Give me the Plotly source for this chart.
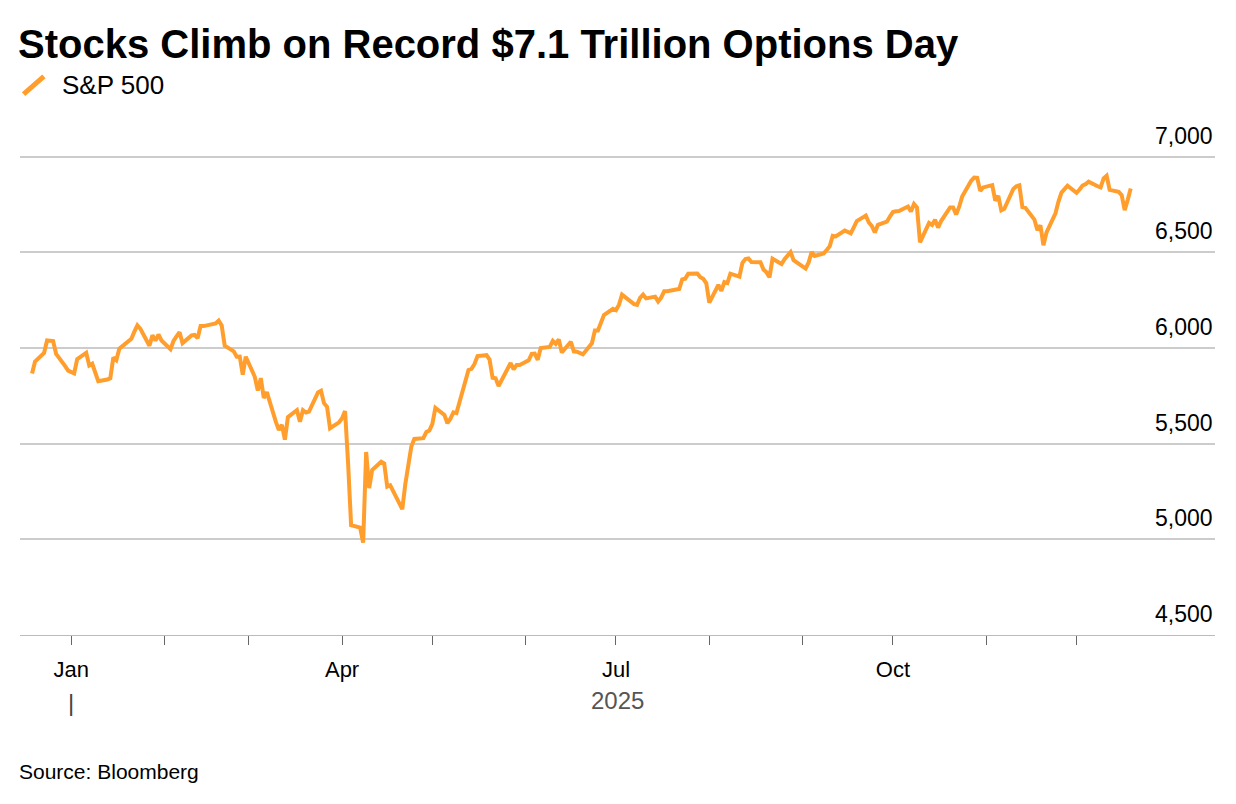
import plotly.graph_objects as go

dates = ["2024-12-19","2024-12-20","2024-12-23","2024-12-24","2024-12-26","2024-12-27","2024-12-30","2024-12-31",
"2025-01-02","2025-01-03","2025-01-06","2025-01-07","2025-01-08","2025-01-10","2025-01-13","2025-01-14","2025-01-15","2025-01-16","2025-01-17",
"2025-01-21","2025-01-22","2025-01-23","2025-01-24","2025-01-27","2025-01-28","2025-01-29","2025-01-30","2025-01-31",
"2025-02-03","2025-02-04","2025-02-05","2025-02-06","2025-02-07","2025-02-10","2025-02-11","2025-02-12","2025-02-13","2025-02-14",
"2025-02-18","2025-02-19","2025-02-20","2025-02-21","2025-02-24","2025-02-25","2025-02-26","2025-02-27","2025-02-28",
"2025-03-03","2025-03-04","2025-03-05","2025-03-06","2025-03-07","2025-03-10","2025-03-11","2025-03-12","2025-03-13","2025-03-14",
"2025-03-17","2025-03-18","2025-03-19","2025-03-20","2025-03-21","2025-03-24","2025-03-25","2025-03-26","2025-03-27","2025-03-28","2025-03-31",
"2025-04-01","2025-04-02","2025-04-03","2025-04-04","2025-04-07","2025-04-08","2025-04-09","2025-04-10","2025-04-11",
"2025-04-14","2025-04-15","2025-04-16","2025-04-17","2025-04-21","2025-04-22","2025-04-23","2025-04-24","2025-04-25",
"2025-04-28","2025-04-29","2025-04-30","2025-05-01","2025-05-02","2025-05-05","2025-05-06","2025-05-07","2025-05-08","2025-05-09",
"2025-05-12","2025-05-13","2025-05-14","2025-05-15","2025-05-16","2025-05-19","2025-05-20","2025-05-21","2025-05-22","2025-05-23",
"2025-05-27","2025-05-28","2025-05-29","2025-05-30","2025-06-02","2025-06-03","2025-06-04","2025-06-05","2025-06-06",
"2025-06-09","2025-06-10","2025-06-11","2025-06-12","2025-06-13","2025-06-16","2025-06-17","2025-06-18","2025-06-20",
"2025-06-23","2025-06-24","2025-06-25","2025-06-26","2025-06-27","2025-06-30","2025-07-01","2025-07-02","2025-07-03",
"2025-07-07","2025-07-08","2025-07-09","2025-07-10","2025-07-11","2025-07-14","2025-07-15","2025-07-16","2025-07-17","2025-07-18",
"2025-07-21","2025-07-22","2025-07-23","2025-07-24","2025-07-25","2025-07-28","2025-07-29","2025-07-30","2025-07-31","2025-08-01",
"2025-08-04","2025-08-05","2025-08-06","2025-08-07","2025-08-08","2025-08-11","2025-08-12","2025-08-13","2025-08-14","2025-08-15",
"2025-08-18","2025-08-19","2025-08-20","2025-08-21","2025-08-22","2025-08-25","2025-08-26","2025-08-27","2025-08-28","2025-08-29",
"2025-09-02","2025-09-03","2025-09-04","2025-09-05","2025-09-08","2025-09-09","2025-09-10","2025-09-11","2025-09-12",
"2025-09-15","2025-09-16","2025-09-17","2025-09-18","2025-09-19","2025-09-22","2025-09-23","2025-09-24","2025-09-25","2025-09-26",
"2025-09-29","2025-09-30","2025-10-01","2025-10-02","2025-10-03","2025-10-06","2025-10-07","2025-10-08","2025-10-09","2025-10-10",
"2025-10-13","2025-10-14","2025-10-15","2025-10-16","2025-10-17","2025-10-20","2025-10-21","2025-10-22","2025-10-23","2025-10-24",
"2025-10-27","2025-10-28","2025-10-29","2025-10-30","2025-10-31","2025-11-03","2025-11-04","2025-11-05","2025-11-06","2025-11-07",
"2025-11-10","2025-11-11","2025-11-12","2025-11-13","2025-11-14","2025-11-17","2025-11-18","2025-11-19","2025-11-20","2025-11-21",
"2025-11-24","2025-11-25","2025-11-26","2025-11-28","2025-12-01","2025-12-02","2025-12-03","2025-12-04","2025-12-05",
"2025-12-08","2025-12-09","2025-12-10","2025-12-11","2025-12-12","2025-12-15","2025-12-16","2025-12-17","2025-12-18","2025-12-19"]

spx = [5867,5930,5974,6040,6037,5970,5906,5882,
5868,5942,5975,5909,5918,5827,5836,5842,5950,5937,5997,
6049,6086,6119,6101,6012,6067,6039,6071,6040,
5994,6037,6061,6083,6026,6066,6069,6052,6115,6115,
6129,6144,6118,6013,5983,5955,5956,5861,5955,
5850,5778,5843,5739,5770,5614,5572,5599,5521,5639,
5675,5615,5675,5663,5668,5768,5777,5712,5693,5581,5612,
5633,5671,5397,5074,5062,4983,5457,5268,5363,
5406,5397,5276,5283,5158,5288,5376,5485,5525,
5529,5561,5569,5604,5687,5650,5607,5631,5664,5660,
5844,5886,5892,5917,5958,5963,5940,5845,5842,5802,
5922,5889,5912,5912,5936,5970,5971,5939,6000,
6006,6038,6022,6045,5977,6033,5983,5981,5967,
6025,6092,6092,6141,6173,6205,6198,6227,6279,
6230,6226,6263,6280,6260,6269,6244,6264,6297,6297,
6306,6309,6359,6363,6389,6390,6371,6362,6339,6238,
6330,6299,6345,6340,6389,6374,6446,6466,6469,6450,
6449,6411,6396,6370,6467,6440,6465,6481,6502,6460,
6416,6448,6502,6482,6495,6513,6532,6587,6584,
6615,6606,6600,6631,6664,6693,6657,6638,6605,6644,
6661,6688,6711,6715,6716,6740,6714,6753,6735,6553,
6654,6644,6671,6630,6664,6735,6735,6699,6738,6792,
6875,6891,6890,6822,6840,6852,6771,6796,6720,6728,
6832,6846,6851,6737,6734,6672,6617,6642,6538,6603,
6705,6766,6813,6849,6812,6829,6850,6857,6870,
6846,6840,6887,6901,6827,6817,6800,6721,6775,6834]

month_ticks = ["2025-01-01","2025-02-01","2025-03-01","2025-04-01","2025-05-01","2025-06-01",
               "2025-07-01","2025-08-01","2025-09-01","2025-10-01","2025-11-01","2025-12-01"]
month_labels = ["Jan","","","Apr","","","Jul","","","Oct","",""]
y_ticks = [4500,5000,5500,6000,6500,7000]
y_labels = ["4,500","5,000","5,500","6,000","6,500","7,000"]

ORANGE = "#FF9E2C"
FONT = "Liberation Sans, Arial, sans-serif"

fig = go.Figure()
fig.add_trace(go.Scatter(x=dates, y=spx, mode="lines",
                         line=dict(color=ORANGE, width=4), hoverinfo="skip"))

fig.update_layout(
    width=1236, height=804, paper_bgcolor="white", plot_bgcolor="white",
    margin=dict(l=12, r=29, t=145, b=177), showlegend=False,
    font=dict(family=FONT, color="#000"),
    xaxis=dict(range=["2024-12-15","2026-01-16"], tickvals=month_ticks, ticktext=month_labels,
               ticks="outside", ticklen=9, tickcolor="#666", tickwidth=1,
               showgrid=False, showline=True, linecolor="#bbb", linewidth=1,
               tickfont=dict(size=22, color="#000"), zeroline=False),
    yaxis=dict(range=[4500,7020], tickvals=y_ticks, showticklabels=False,
               showgrid=True, gridcolor="#cccccc", gridwidth=1.5, zeroline=False, fixedrange=True),
)
fig.update_xaxes(ticklabelstandoff=6)

for v, lab in zip(y_ticks, y_labels):
    fig.add_annotation(x=1, xref="paper", y=v, yref="y", text=lab, showarrow=False,
                       xanchor="right", yanchor="bottom", yshift=6,
                       font=dict(size=23, color="#000"))

fig.add_annotation(x=0, xref="paper", y=1.226, yref="paper", text="<b>Stocks Climb on Record $7.1 Trillion Options Day</b>",
                   showarrow=False, xanchor="left", yanchor="middle", xshift=-4, font=dict(size=40, color="#000"))
fig.add_shape(type="line", xref="paper", yref="paper", x0=0.003, x1=0.02, y0=1.122, y1=1.159,
              line=dict(color=ORANGE, width=5))
fig.add_annotation(x=0.0335, xref="paper", y=1.142, yref="paper", text="S&P 500",
                   showarrow=False, xanchor="left", yanchor="middle", font=dict(size=26, color="#000"))
fig.add_annotation(x=0.5, xref="paper", y=-0.136, yref="paper", text="2025", showarrow=False,
                   xanchor="center", yanchor="middle", font=dict(size=24, color="#555"))
fig.add_annotation(x="2025-01-01", xref="x", y=-0.14, yref="paper", text="|", showarrow=False,
                   xanchor="center", yanchor="middle", font=dict(size=24, color="#444"))
fig.add_annotation(x=0, xref="paper", y=-0.284, yref="paper", text="Source: Bloomberg", showarrow=False,
                   xanchor="left", yanchor="middle", xshift=-3, font=dict(size=21, color="#000"))

fig.write_html("out.html")
